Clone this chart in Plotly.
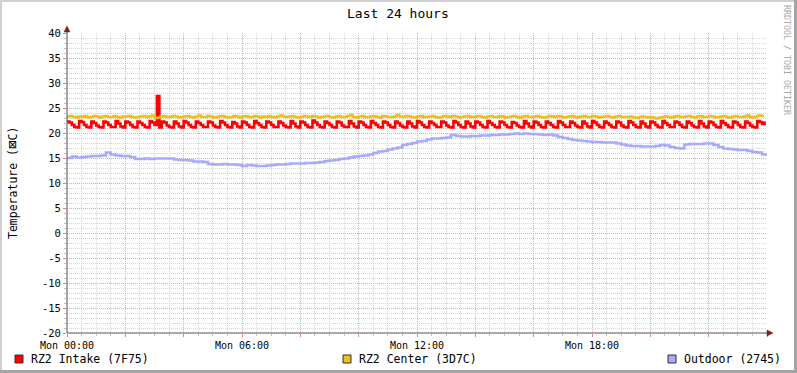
import plotly.graph_objects as go

# ---------------- data ----------------
title_text = "Last 24 hours"
y_title = "Temperature (<span style=\"font-size:14px\">\u22A0</span>C)"
watermark = "RRDTOOL / TOBI OETIKER"

x_tick_vals = [0, 120, 240, 360, 480, 600, 720, 840, 960, 1080, 1200, 1320, 1440]
x_tick_text = ["Mon 00:00", "", "", "Mon 06:00", "", "", "Mon 12:00", "", "",
               "Mon 18:00", "", "", ""]
y_tick_vals = [40, 35, 30, 25, 20, 15, 10, 5, 0, -5, -10, -15, -20]
y_tick_text = ["40", "35", "30", "25", "20", "15", "10", "5", "0", "-5", "-10", "-15", "-20"]

series_names = ["RZ2 Intake (7F75)", "RZ2 Center (3D7C)", "Outdoor (2745)"]
series_colors = ["#FF0000", "#EABF1F", "#A9A9FB"]

# minutes per sample
intake_step = 5
center_step = 6
outdoor_step = 10

intake = [
    22.3, 22.1, 21.6, 21.2, 21.1, 22.4, 22.2, 21.6, 21.2, 21.1, 22.3, 22.0, 21.5, 21.2, 21.1, 22.3, 22.1, 21.6, 21.2, 21.2, 22.4, 21.9, 21.3, 21.1,
    22.3, 22.1, 21.6, 21.2, 21.1, 22.3, 22.0, 21.6, 21.2, 21.1, 22.4, 22.1, 21.6, 27.4, 21.1, 22.3, 22.1, 21.5, 21.2, 21.1, 22.3, 21.9, 21.3, 21.1,
    22.4, 22.1, 21.6, 21.2, 21.1, 22.3, 22.0, 21.6, 21.2, 21.2, 22.3, 22.1, 21.5, 21.2, 21.1, 22.4, 22.1, 21.6, 21.2, 21.1, 22.2, 21.9, 21.3, 21.1,
    22.3, 22.1, 21.6, 21.2, 21.1, 22.4, 22.0, 21.6, 21.2, 21.1, 22.3, 22.1, 21.6, 21.2, 21.2, 22.3, 22.0, 21.5, 21.2, 21.1, 22.4, 21.9, 21.3, 21.1,
    22.3, 22.1, 21.6, 21.2, 21.1, 22.5, 22.1, 21.6, 21.2, 21.1, 22.3, 22.0, 21.6, 21.2, 21.1, 22.3, 22.1, 21.5, 21.2, 21.2, 22.4, 21.9, 21.3, 21.1,
    22.3, 22.1, 21.6, 21.2, 21.1, 22.4, 22.0, 21.6, 21.2, 21.1, 22.3, 22.1, 21.6, 21.2, 21.1, 22.3, 22.0, 21.5, 21.2, 21.1, 22.3, 21.9, 21.3, 21.1,
    22.4, 22.1, 21.6, 21.2, 21.1, 22.3, 22.0, 21.6, 21.2, 21.2, 22.3, 22.1, 21.5, 21.2, 21.1, 22.4, 22.1, 21.6, 21.2, 21.1, 22.3, 21.9, 21.3, 21.1,
    22.3, 22.1, 21.6, 21.2, 21.1, 22.4, 22.0, 21.6, 21.2, 21.1, 22.3, 22.1, 21.6, 21.2, 21.1, 22.2, 22.0, 21.5, 21.2, 21.1, 22.4, 21.9, 21.3, 21.1,
    22.3, 22.1, 21.6, 21.2, 21.1, 22.3, 22.0, 21.6, 21.2, 21.1, 22.4, 22.1, 21.6, 21.2, 21.2, 22.3, 22.0, 21.5, 21.2, 21.1, 22.3, 21.9, 21.3, 21.1,
    22.4, 22.1, 21.6, 21.2, 21.1, 22.3, 22.0, 21.6, 21.2, 21.1, 22.3, 22.1, 21.5, 21.2, 21.1, 22.4, 22.1, 21.6, 21.2, 21.1, 22.3, 21.9, 21.3, 21.1,
    22.3, 22.1, 21.6, 21.2, 21.1, 22.4, 22.0, 21.6, 21.2, 21.2, 22.3, 22.1, 21.6, 21.2, 21.1, 22.3, 22.0, 21.5, 21.2, 21.1, 22.4, 21.9, 21.3, 21.1,
    22.3, 22.1, 21.6, 21.2, 21.1, 22.4, 22.0, 21.6, 21.2, 21.1, 22.3, 22.1, 21.6, 21.2, 21.1, 22.3, 22.0, 21.5, 21.2, 21.1, 22.4, 22.2, 21.8, 22.3,
]

center = [
    23.3, 23.4, 23.2, 23.1, 23.3, 23.2, 23.4, 23.1,
    23.2, 23.4, 23.3, 23.1, 23.3, 23.4, 23.2, 23.2,
    23.4, 23.2, 23.1, 23.3, 23.3, 23.4, 23.2, 23.1,
    23.2, 23.3, 23.4, 23.2, 23.3, 23.5, 23.0, 23.1,
    23.3, 23.4, 23.2, 23.2, 23.4, 23.3, 23.1, 23.2,
    23.3, 23.4, 23.2, 23.1, 23.3, 23.5, 23.2, 23.2,
    23.4, 23.3, 23.1, 23.2, 23.3, 23.4, 23.2, 23.1,
    23.2, 23.4, 23.3, 23.1, 23.3, 23.4, 23.2, 23.2,
    23.4, 23.3, 23.1, 23.3, 23.2, 23.4, 23.2, 23.1,
    23.3, 23.5, 23.3, 23.2, 23.3, 23.4, 23.2, 23.1,
    23.2, 23.4, 23.3, 23.2, 23.4, 23.3, 23.1, 23.2,
    23.3, 23.4, 23.2, 23.1, 23.3, 23.4, 23.2, 23.2,
    23.4, 23.6, 23.2, 23.1, 23.3, 23.4, 23.2, 23.2,
    23.3, 23.4, 23.2, 23.1, 23.4, 23.3, 23.2, 23.2,
    23.3, 23.6, 23.3, 23.2, 23.4, 23.3, 23.2, 23.1,
    23.3, 23.4, 23.2, 23.2, 23.3, 23.4, 23.2, 23.1,
    23.2, 23.4, 23.3, 23.2, 23.4, 23.3, 23.1, 23.2,
    23.3, 23.4, 23.2, 23.2, 23.3, 23.4, 23.2, 23.1,
    23.3, 23.4, 23.2, 23.2, 23.4, 23.3, 23.1, 23.2,
    23.3, 23.4, 23.2, 23.1, 23.3, 23.4, 23.2, 23.2,
    23.3, 23.4, 23.2, 23.1, 23.2, 23.4, 23.3, 23.2,
    23.4, 23.3, 23.1, 23.2, 23.3, 23.4, 23.2, 23.1,
    23.3, 23.4, 23.2, 23.2, 23.4, 23.3, 23.1, 23.2,
    23.3, 23.4, 23.2, 23.1, 23.3, 23.4, 23.2, 23.2,
    23.2, 23.3, 23.1, 23.0, 23.2, 23.3, 23.2, 23.1,
    23.2, 23.0, 22.9, 23.1, 23.2, 23.3, 23.2, 23.1,
    23.3, 23.4, 23.2, 23.2, 23.3, 23.4, 23.2, 23.1,
    23.3, 23.4, 23.2, 23.2, 23.4, 23.3, 23.1, 23.2,
    23.3, 23.4, 23.2, 23.1, 23.3, 23.4, 23.2, 23.2,
    23.3, 23.5, 23.2, 23.1, 23.3, 23.5, 23.4, 23.4,
]

outdoor = [
    15.0, 15.3, 15.1, 15.2, 15.3, 15.4, 15.4, 15.5, 16.1, 15.7,
    15.5, 15.4, 15.4, 15.2, 14.8, 14.8, 14.9, 14.8, 14.9, 14.9,
    14.9, 14.9, 14.7, 14.6, 14.6, 14.5, 14.3, 14.3, 14.2, 13.8,
    13.7, 13.7, 13.8, 13.7, 13.7, 13.6, 13.4, 13.6, 13.5, 13.4,
    13.4, 13.5, 13.6, 13.7, 13.7, 13.8, 13.9, 13.9, 13.9, 14.0,
    14.0, 14.1, 14.2, 14.4, 14.5, 14.6, 14.8, 14.9, 15.1, 15.3,
    15.4, 15.5, 15.7, 16.0, 16.3, 16.4, 16.7, 16.9, 17.1, 17.6,
    17.8, 18.0, 18.3, 18.4, 18.7, 18.9, 18.9, 19.0, 19.1, 19.6,
    19.4, 19.3, 19.3, 19.4, 19.4, 19.5, 19.5, 19.6, 19.6, 19.7,
    19.7, 19.8, 19.9, 19.8, 19.9, 19.8, 19.8, 19.7, 19.6, 19.7,
    19.5, 19.2, 19.0, 18.8, 18.6, 18.5, 18.4, 18.3, 18.2, 18.2,
    18.1, 18.1, 18.1, 17.9, 17.7, 17.5, 17.4, 17.4, 17.3, 17.3,
    17.3, 17.4, 17.6, 17.5, 17.2, 17.0, 16.9, 17.7, 17.8, 17.8,
    17.8, 17.9, 17.9, 17.6, 17.2, 16.9, 16.8, 16.7, 16.6, 16.6,
    16.4, 16.2, 16.1, 15.7, 15.4,
]

FONT = "DejaVu Sans Mono"

# ---------------- layout geometry ----------------
W, H = 797, 373
L, R, T, B = 67, 30, 33, 40
PW, PH = W - L - R, H - T - B


def px(x):
    return (x - L) / PW


def py(y):
    return (H - B - y) / PH


fig = go.Figure()

all_series = [(intake, intake_step, 2.6), (center, center_step, 2.3), (outdoor, outdoor_step, 2.6)]
for (vals, step, lw), name, color in zip(all_series, series_names, series_colors):
    fig.add_trace(go.Scatter(
        x=[i * step for i in range(len(vals))], y=vals, name=name, mode="lines",
        line=dict(color=color, width=lw, shape="hv"), hoverinfo="skip", showlegend=False,
    ))

grid_major = "#E9A8A8"
grid_minor = "#D4D4D4"

fig.update_xaxes(
    range=[0, 1440], tickmode="array", tickvals=x_tick_vals, ticktext=x_tick_text,
    showgrid=True, gridcolor=grid_major, griddash="1px,1px", gridwidth=1,
    ticks="outside", ticklen=3, tickcolor="#E08080", zeroline=False, showline=False,
    tickfont=dict(family=FONT, size=10, color="#000000"),
    minor=dict(tickmode="linear", tick0=0, dtick=30, showgrid=True, gridcolor=grid_minor,
               griddash="1px,1px", gridwidth=1, ticks="outside", ticklen=2, tickcolor="#C0C0C0"),
    fixedrange=True,
)
fig.update_yaxes(
    range=[-20, 40], tickmode="array", tickvals=y_tick_vals, ticktext=y_tick_text,
    showgrid=True, gridcolor=grid_major, griddash="1px,1px", gridwidth=1,
    ticks="outside", ticklen=3, tickcolor="#E08080", zeroline=False, showline=False,
    tickfont=dict(family=FONT, size=10.5, color="#000000"),
    minor=dict(tickmode="linear", tick0=0, dtick=1, showgrid=True, gridcolor=grid_minor,
               griddash="1px,1px", gridwidth=1, ticks="outside", ticklen=2, tickcolor="#C0C0C0"),
    fixedrange=True,
)

shapes = []
axis_col = "#505050"
arrow_col = "#7F1F1F"
# axis lines
shapes.append(dict(type="line", xref="paper", yref="paper", x0=px(67), y0=py(333),
                   x1=px(768), y1=py(333), line=dict(color=axis_col, width=1), layer="above"))
shapes.append(dict(type="line", xref="paper", yref="paper", x0=px(67), y0=py(333),
                   x1=px(67), y1=py(31), line=dict(color=axis_col, width=1), layer="above"))
# arrow heads
shapes.append(dict(type="path", xref="paper", yref="paper",
                   path=f"M {px(767)},{py(330)} L {px(773)},{py(333)} L {px(767)},{py(336)} Z",
                   fillcolor=arrow_col, line=dict(color=arrow_col, width=0.5), layer="above"))
shapes.append(dict(type="path", xref="paper", yref="paper",
                   path=f"M {px(64)},{py(32)} L {px(67)},{py(26)} L {px(70)},{py(32)} Z",
                   fillcolor=arrow_col, line=dict(color=arrow_col, width=0.5), layer="above"))
# frame (3D border)
shapes.append(dict(type="rect", xref="paper", yref="paper", x0=px(0), x1=px(797), y0=py(0), y1=py(2),
                   fillcolor="#D0D0D0", line=dict(width=0), layer="above"))
shapes.append(dict(type="rect", xref="paper", yref="paper", x0=px(0), x1=px(2), y0=py(0), y1=py(373),
                   fillcolor="#D0D0D0", line=dict(width=0), layer="above"))
shapes.append(dict(type="rect", xref="paper", yref="paper", x0=px(794), x1=px(797), y0=py(0), y1=py(373),
                   fillcolor="#A4A4A4", line=dict(width=0), layer="above"))
shapes.append(dict(type="rect", xref="paper", yref="paper", x0=px(0), x1=px(797), y0=py(370), y1=py(373),
                   fillcolor="#A4A4A4", line=dict(width=0), layer="above"))

# legend boxes
legend_x = [15, 343, 668]
annotations = []
for lx, name, color in zip(legend_x, series_names, series_colors):
    shapes.append(dict(type="rect", xref="paper", yref="paper", x0=px(lx), x1=px(lx + 8),
                       y0=py(355), y1=py(363), fillcolor=color,
                       line=dict(color="#303030", width=1), layer="above"))
    annotations.append(dict(text=name, xref="paper", yref="paper", x=px(lx + 14), y=py(359),
                            xanchor="left", yanchor="middle", showarrow=False,
                            font=dict(family=FONT, size=11.5, color="#000000")))

annotations.append(dict(text=title_text, xref="paper", yref="paper", x=px(398), y=py(13),
                        xanchor="center", yanchor="middle", showarrow=False,
                        font=dict(family=FONT, size=13, color="#000000")))
annotations.append(dict(text=y_title, xref="paper", yref="paper", x=px(12), y=py(183),
                        xanchor="center", yanchor="middle", showarrow=False, textangle=-90,
                        font=dict(family=FONT, size=11.5, color="#000000")))
annotations.append(dict(text=watermark, xref="paper", yref="paper", x=px(787), y=py(60),
                        xanchor="center", yanchor="middle", showarrow=False, textangle=90,
                        font=dict(family=FONT, size=8.3, color="#A8A8A8")))

fig.update_layout(
    width=W, height=H, autosize=False,
    margin=dict(l=L, r=R, t=T, b=B, pad=0),
    paper_bgcolor="#FFFFFF", plot_bgcolor="#FFFFFF",
    shapes=shapes, annotations=annotations, showlegend=False,
    hovermode=False,
)

fig.write_html(
    "out.html",
    config={"displayModeBar": False, "staticPlot": True},
    post_script="document.body.style.margin='0px';document.body.style.overflow='hidden';",
)
